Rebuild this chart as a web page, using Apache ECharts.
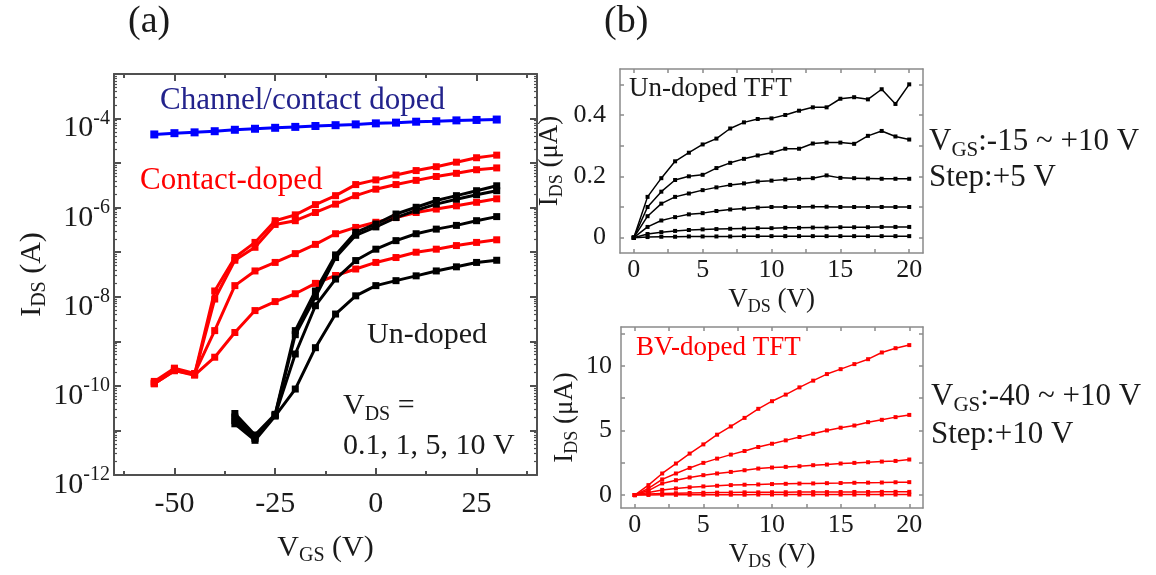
<!DOCTYPE html>
<html>
<head>
<meta charset="utf-8">
<script src="https://cdn.jsdelivr.net/npm/echarts@6/dist/echarts.min.js"></script>
<style>
  html, body { margin: 0; padding: 0; background: #fff; }
  #chart { width: 1156px; height: 575px; }
</style>
</head>
<body>
<div id="chart"></div>
<script>
// ---------- Panel (a): transfer curves, I_DS vs V_GS (log scale) ----------
const vgsDoped   = [-55, -50, -45, -40, -35, -30, -25, -20, -15, -10, -5, 0, 5, 10, 15, 20, 25, 30];
const vgsUndoped = [-35, -30, -25, -20, -15, -10, -5, 0, 5, 10, 15, 20, 25, 30];

// Channel/contact doped device
const idsChannelDoped = [4.4e-5, 4.7e-5, 4.9e-5, 5.2e-5, 5.6e-5, 5.9e-5, 6.2e-5, 6.5e-5, 6.8e-5,
                         7.1e-5, 7.4e-5, 7.8e-5, 8.1e-5, 8.5e-5, 8.7e-5, 9.1e-5, 9.3e-5, 9.5e-5];

// Contact-doped device, V_DS = 10, 5, 1, 0.1 V
const idsContact10 = [1.17e-10, 2.4e-10, 1.8e-10, 1.35e-8, 7.6e-8, 1.66e-7, 5.1e-7, 6.9e-7, 1.17e-6,
                      1.86e-6, 3.3e-6, 4.2e-6, 5.4e-6, 6.8e-6, 8.3e-6, 1.05e-5, 1.32e-5, 1.51e-5];
const idsContact5  = [1.12e-10, 2.2e-10, 1.8e-10, 8.9e-9, 6.6e-8, 1.29e-7, 4.2e-7, 5.1e-7, 7.8e-7,
                      1.2e-6, 1.86e-6, 2.6e-6, 3.3e-6, 4.1e-6, 5.0e-6, 5.9e-6, 7.1e-6, 7.8e-6];
const idsContact1  = [1.26e-10, 2.5e-10, 1.9e-10, 1.74e-9, 1.78e-8, 3.8e-8, 5.9e-8, 9.3e-8, 1.5e-7,
                      2.6e-7, 3.6e-7, 4.7e-7, 6.0e-7, 7.8e-7, 9.3e-7, 1.1e-6, 1.32e-6, 1.58e-6];
const idsContact01 = [1.12e-10, 2.2e-10, 1.74e-10, 4.4e-10, 1.58e-9, 4.9e-9, 7.8e-9, 1.17e-8, 2.0e-8,
                      3.0e-8, 4.2e-8, 5.9e-8, 7.6e-8, 1.0e-7, 1.17e-7, 1.41e-7, 1.66e-7, 1.9e-7];

// Un-doped device, V_DS = 10, 5, 1, 0.1 V
const idsUndoped10 = [2.4e-11, 7.9e-12, 2.3e-11, 1.74e-9, 1.35e-8, 8.7e-8, 2.8e-7, 4.3e-7, 7.2e-7,
                      1.02e-6, 1.45e-6, 1.86e-6, 2.4e-6, 3.1e-6];
const idsUndoped5  = [2.0e-11, 7.1e-12, 2.2e-11, 1.41e-9, 1.0e-8, 7.6e-8, 2.4e-7, 3.7e-7, 6.0e-7,
                      8.7e-7, 1.2e-6, 1.55e-6, 1.95e-6, 2.4e-6];
const idsUndoped1  = [1.66e-11, 6.6e-12, 2.2e-11, 5.2e-10, 6.3e-9, 2.5e-8, 6.5e-8, 1.17e-7, 1.82e-7,
                      2.6e-7, 3.3e-7, 4.0e-7, 5.1e-7, 6.3e-7];
const idsUndoped01 = [1.41e-11, 6.0e-12, 2.1e-11, 8.5e-11, 7.2e-10, 4.1e-9, 1.05e-8, 1.78e-8, 2.3e-8,
                      2.95e-8, 3.8e-8, 4.7e-8, 5.9e-8, 6.6e-8];

// Axis ticks of panel (a)
const vgsTicks      = [-50, -25, 0, 25];
const vgsMinorTicks = [-62.5, -37.5, -12.5, 12.5, 37.5];
const idsDecadeExps = [-12, -11, -10, -9, -8, -7, -6, -5, -4, -3];
const idsMantissas  = [2, 3, 4, 5, 6, 7, 8, 9];

// ---------- Panel (b): output curves, I_DS vs V_DS (µA) ----------
const vds = [0, 1, 2, 3, 4, 5, 6, 7, 8, 9, 10, 11, 12, 13, 14, 15, 16, 17, 18, 19, 20];

// Un-doped TFT, V_GS = +10, +5, 0, -5, -10, -15 V
const undopedVgs10  = [0, 0.133, 0.194, 0.249, 0.277, 0.304, 0.323, 0.356, 0.376, 0.387, 0.389,
                       0.400, 0.414, 0.425, 0.425, 0.453, 0.458, 0.451, 0.484, 0.436, 0.500];
const undopedVgs5   = [0, 0.100, 0.150, 0.188, 0.200, 0.205, 0.227, 0.244, 0.257, 0.268, 0.277,
                       0.290, 0.290, 0.307, 0.310, 0.310, 0.306, 0.332, 0.348, 0.330, 0.320];
const undopedVgs0   = [0, 0.070, 0.111, 0.133, 0.144, 0.155, 0.164, 0.172, 0.177, 0.183, 0.186,
                       0.190, 0.192, 0.194, 0.203, 0.195, 0.194, 0.193, 0.192, 0.192, 0.192];
const undopedVgsM5  = [0, 0.035, 0.056, 0.067, 0.076, 0.080, 0.087, 0.092, 0.095, 0.098, 0.100,
                       0.100, 0.100, 0.101, 0.101, 0.100, 0.100, 0.100, 0.100, 0.100, 0.100];
const undopedVgsM10 = [0, 0.012, 0.018, 0.022, 0.025, 0.027, 0.028, 0.029, 0.030, 0.031, 0.031,
                       0.032, 0.032, 0.033, 0.033, 0.034, 0.034, 0.034, 0.035, 0.035, 0.035];
const undopedVgsM15 = [0, 0.002, 0.003, 0.003, 0.004, 0.004, 0.004, 0.004, 0.005, 0.005, 0.005,
                       0.005, 0.005, 0.005, 0.005, 0.005, 0.005, 0.005, 0.005, 0.005, 0.005];

// BV-doped TFT, V_GS = +10, 0, -10, -20, -30, -40 V
const bvVgs10  = [0, 0.77, 1.67, 2.44, 3.21, 3.92, 4.67, 5.31, 5.97, 6.67, 7.26,
                  7.77, 8.33, 8.85, 9.36, 9.74, 10.13, 10.51, 11.03, 11.36, 11.6];
const bvVgs0   = [0, 0.51, 1.21, 1.67, 2.10, 2.49, 2.82, 3.13, 3.41, 3.72, 3.97,
                  4.23, 4.49, 4.74, 5.00, 5.21, 5.38, 5.64, 5.82, 6.03, 6.2];
const bvVgsM10 = [0, 0.35, 0.90, 1.15, 1.36, 1.54, 1.67, 1.79, 1.92, 2.05, 2.13,
                  2.18, 2.23, 2.31, 2.36, 2.44, 2.49, 2.54, 2.59, 2.64, 2.75];
const bvVgsM20 = [0, 0.20, 0.40, 0.51, 0.60, 0.67, 0.72, 0.77, 0.80, 0.82, 0.85,
                  0.87, 0.89, 0.90, 0.92, 0.93, 0.95, 0.96, 0.97, 0.99, 1.00];
const bvVgsM30 = [0, 0.08, 0.12, 0.14, 0.16, 0.18, 0.19, 0.20, 0.21, 0.21, 0.22,
                  0.22, 0.23, 0.23, 0.23, 0.24, 0.24, 0.24, 0.25, 0.25, 0.25];
const bvVgsM40 = [0, 0.01, 0.02, 0.02, 0.03, 0.03, 0.03, 0.03, 0.03, 0.04, 0.04,
                  0.04, 0.04, 0.04, 0.04, 0.04, 0.04, 0.04, 0.04, 0.04, 0.04];

// Axis ticks of panel (b)
const vdsTicks        = [0, 5, 10, 15, 20];
const vdsAllTicks     = [0, 2.5, 5, 7.5, 10, 12.5, 15, 17.5, 20];
const undopedTicks    = [0, 0.1, 0.2, 0.3, 0.4, 0.5];
const undopedLabels   = [0, 0.2, 0.4];
const bvTicks         = [0, 2.5, 5, 7.5, 10, 12.5];
const bvLabels        = [0, 5, 10];

// ---------- styling ----------
const FONT = 'Liberation Serif';
const TXT = '#1a1a1a';
const GRAY_A = '#505050';
const GRAY_B = '#8a8a8a';
const RED = '#ff0000';
const BLUE = '#0000ff';

const pairs = (xs, ys) => xs.map((x, i) => [x, ys[i]]);

// minor ticks of the log axis, as exponents
const idsMinorExps = [];
idsDecadeExps.slice(0, -1).forEach(e => idsMantissas.forEach(m => idsMinorExps.push(e + Math.log10(m))));

function linAxis(o) {
  const base = {
    type: 'value',
    scale: false,
    splitLine: { show: false },
    axisLine: { show: o.hideLine ? false : true, onZero: false, lineStyle: { color: o.color, width: o.lineWidth } },
    axisTick: { show: true, inside: true, length: o.tickLen, customValues: o.ticks,
                lineStyle: { color: o.color, width: o.lineWidth } },
    axisLabel: o.labels ? {
      show: true, customValues: o.labels, margin: o.margin, fontFamily: FONT,
      fontSize: o.fontSize, color: TXT, formatter: v => String(v)
    } : { show: false }
  };
  return Object.assign(base, o.extra || {});
}

const nameRich = size => ({
  m: { fontFamily: FONT, fontSize: size, color: TXT },
  s: { fontFamily: FONT, fontSize: Math.round(size * 0.67), color: TXT, padding: [Math.round(size * 0.5), 0, 0, 0] }
});

const xAxes = [
  // panel (a) bottom
  linAxis({ color: GRAY_A, lineWidth: 2, tickLen: 7, ticks: vgsTicks, labels: vgsTicks, margin: 14, fontSize: 30,
    extra: { gridIndex: 0, position: 'bottom', min: -65, max: 40,
      name: '{m|V}{s|GS}{m| (V)}', nameLocation: 'middle', nameGap: 56,
      nameTextStyle: { rich: nameRich(30) } } }),
  // panel (a) top
  linAxis({ color: GRAY_A, lineWidth: 2, tickLen: 7, ticks: vgsTicks,
    extra: { gridIndex: 0, position: 'top', min: -65, max: 40 } }),
  // panel (a) minor ticks
  linAxis({ color: GRAY_A, lineWidth: 2, tickLen: 4, ticks: vgsMinorTicks, hideLine: true,
    extra: { gridIndex: 0, position: 'bottom', min: -65, max: 40 } }),
  linAxis({ color: GRAY_A, lineWidth: 2, tickLen: 4, ticks: vgsMinorTicks, hideLine: true,
    extra: { gridIndex: 0, position: 'top', min: -65, max: 40 } }),
  // panel (b) upper
  linAxis({ color: GRAY_B, lineWidth: 1.5, tickLen: 4, ticks: vdsAllTicks, labels: vdsTicks, margin: 4, fontSize: 26,
    extra: { gridIndex: 1, position: 'bottom', min: -1, max: 21,
      name: '{m|V}{s|DS}{m| (V)}', nameLocation: 'middle', nameGap: 31,
      nameTextStyle: { rich: nameRich(27) } } }),
  linAxis({ color: GRAY_B, lineWidth: 1.5, tickLen: 4, ticks: vdsAllTicks,
    extra: { gridIndex: 1, position: 'top', min: -1, max: 21 } }),
  // panel (b) lower
  linAxis({ color: GRAY_B, lineWidth: 1.5, tickLen: 4, ticks: vdsAllTicks, labels: vdsTicks, margin: 4, fontSize: 26,
    extra: { gridIndex: 2, position: 'bottom', min: -1, max: 21,
      name: '{m|V}{s|DS}{m| (V)}', nameLocation: 'middle', nameGap: 31,
      nameTextStyle: { rich: nameRich(27) } } }),
  linAxis({ color: GRAY_B, lineWidth: 1.5, tickLen: 4, ticks: vdsAllTicks,
    extra: { gridIndex: 2, position: 'top', min: -1, max: 21 } })
];

function logAxis(position, withLabels) {
  return {
    type: 'log', logBase: 10, gridIndex: 0, position, min: 1e-12, max: 1e-3, splitNumber: 9,
    splitLine: { show: false },
    axisLine: { show: true, onZero: false, lineStyle: { color: GRAY_A, width: 2 } },
    axisTick: { show: true, inside: true, length: 7, lineStyle: { color: GRAY_A, width: 2 } },
    axisLabel: withLabels ? {
      show: true, interval: 0, margin: 4, fontFamily: FONT, fontSize: 30, color: TXT,
      formatter: v => {
        const e = Math.round(Math.log10(v));
        return (e % 2 === 0) ? '{b|10}{e|' + e + '}' : '';
      },
      rich: {
        b: { fontFamily: FONT, fontSize: 30, color: TXT, padding: [20, 0, 0, 0] },
        e: { fontFamily: FONT, fontSize: 20, color: TXT }
      }
    } : { show: false },
    name: withLabels ? '{m|I}{s|DS}{m| (A)}' : '',
    nameLocation: 'middle', nameGap: 64,
    nameTextStyle: { rich: nameRich(30) }
  };
}

function logMinorAxis(position) {
  return {
    type: 'value', gridIndex: 0, position, min: -12, max: -3,
    splitLine: { show: false },
    axisLine: { show: false, onZero: false },
    axisTick: { show: true, inside: true, length: 3, customValues: idsMinorExps,
                lineStyle: { color: GRAY_A, width: 1.2 } },
    axisLabel: { show: false }
  };
}

const yAxes = [
  logAxis('left', true),
  logAxis('right', false),
  logMinorAxis('left'),
  logMinorAxis('right'),
  linAxis({ color: GRAY_B, lineWidth: 1.5, tickLen: 4, ticks: undopedTicks, labels: undopedLabels, margin: 14, fontSize: 26,
    extra: { gridIndex: 1, position: 'left', min: -0.05, max: 0.55,
      name: '{m|I}{s|DS}{m| (μA)}', nameLocation: 'middle', nameGap: 54,
      nameTextStyle: { rich: nameRich(27) } } }),
  linAxis({ color: GRAY_B, lineWidth: 1.5, tickLen: 4, ticks: undopedTicks,
    extra: { gridIndex: 1, position: 'right', min: -0.05, max: 0.55 } }),
  linAxis({ color: GRAY_B, lineWidth: 1.5, tickLen: 4, ticks: bvTicks, labels: bvLabels, margin: 9, fontSize: 26,
    extra: { gridIndex: 2, position: 'left', min: -1, max: 13,
      name: '{m|I}{s|DS}{m| (μA)}', nameLocation: 'middle', nameGap: 40,
      nameTextStyle: { rich: nameRich(27) } } }),
  linAxis({ color: GRAY_B, lineWidth: 1.5, tickLen: 4, ticks: bvTicks,
    extra: { gridIndex: 2, position: 'right', min: -1, max: 13 } })
];

const transfer = (data, xs, color, size) => ({
  type: 'line', xAxisIndex: 0, yAxisIndex: 0, data: pairs(xs, data),
  symbol: 'rect', symbolSize: size || 7, showSymbol: true,
  lineStyle: { color, width: 3 }, itemStyle: { color }, silent: true, animation: false
});

const output = (data, grid, color) => ({
  type: 'line', xAxisIndex: grid === 1 ? 4 : 6, yAxisIndex: grid === 1 ? 4 : 6, data: pairs(vds, data),
  symbol: 'rect', symbolSize: 4, showSymbol: true,
  lineStyle: { color, width: 1.5 }, itemStyle: { color }, silent: true, animation: false
});

const series = [
  transfer(idsContact01, vgsDoped, RED),
  transfer(idsContact1,  vgsDoped, RED),
  transfer(idsContact5,  vgsDoped, RED),
  transfer(idsContact10, vgsDoped, RED),
  transfer(idsUndoped01, vgsUndoped, '#000'),
  transfer(idsUndoped1,  vgsUndoped, '#000'),
  transfer(idsUndoped5,  vgsUndoped, '#000'),
  transfer(idsUndoped10, vgsUndoped, '#000'),
  transfer(idsChannelDoped, vgsDoped, BLUE, 8),
  output(undopedVgsM15, 1, '#000'),
  output(undopedVgsM10, 1, '#000'),
  output(undopedVgsM5,  1, '#000'),
  output(undopedVgs0,   1, '#000'),
  output(undopedVgs5,   1, '#000'),
  output(undopedVgs10,  1, '#000'),
  output(bvVgsM40, 2, RED),
  output(bvVgsM30, 2, RED),
  output(bvVgsM20, 2, RED),
  output(bvVgsM10, 2, RED),
  output(bvVgs0,   2, RED),
  output(bvVgs10,  2, RED)
];

const textRich = (size, color) => ({
  m: { fontFamily: FONT, fontSize: size, fill: color, color },
  s: { fontFamily: FONT, fontSize: Math.round(size * 0.67), fill: color, color, padding: [Math.round(size * 0.55), 0, 0, 0] }
});

const label = (x, y, text, size, color, rich) => ({
  type: 'text', x, y, silent: true,
  style: rich
    ? { text, rich: textRich(size, color), fill: color, align: 'left', verticalAlign: 'middle',
        font: size + 'px "' + FONT + '"' }
    : { text, fill: color, align: 'left', verticalAlign: 'middle', font: size + 'px "' + FONT + '"' }
});

const graphics = [
  label(128, 22, '(a)', 38, TXT),
  label(604, 22, '(b)', 38, TXT),
  label(160, 101, 'Channel/contact doped', 31, '#23238c'),
  label(140, 181, 'Contact-doped', 31, RED),
  label(367, 335, 'Un-doped', 30, TXT),
  label(343, 406, '{m|V}{s|DS}{m| =}', 30, TXT, true),
  label(343, 446, '0.1, 1, 5, 10 V', 30, TXT),
  label(629, 89, 'Un-doped TFT', 27, TXT),
  label(636, 348, 'BV-doped TFT', 27, RED),
  label(929, 142, '{m|V}{s|GS}{m|:-15 ~ +10 V}', 31, TXT, true),
  label(929, 178, 'Step:+5 V', 31, TXT),
  label(931, 397, '{m|V}{s|GS}{m|:-40 ~ +10 V}', 31, TXT, true),
  label(931, 435, 'Step:+10 V', 31, TXT)
];

const chart = echarts.init(document.getElementById('chart'), null, { renderer: 'canvas' });
chart.setOption({
  backgroundColor: '#fff',
  animation: false,
  grid: [
    { left: 114, top: 74, width: 423, height: 401 },
    { left: 620, top: 69, width: 303, height: 184 },
    { left: 621, top: 327, width: 302, height: 181 }
  ],
  xAxis: xAxes,
  yAxis: yAxes,
  series,
  graphic: graphics
});
</script>
</body>
</html>
